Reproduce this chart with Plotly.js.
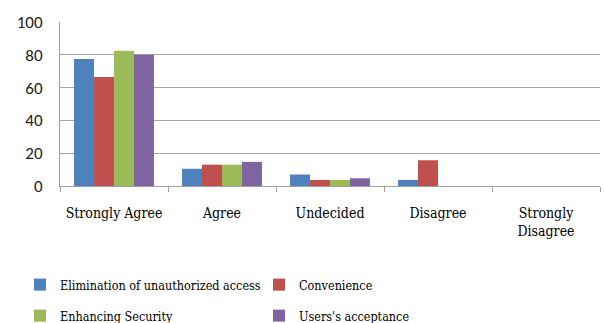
<!DOCTYPE html>
<html>
<head>
<meta charset="utf-8">
<script src="https://cdn.plot.ly/plotly-3.0.1.min.js"></script>
<style>html,body{margin:0;padding:0;background:#fff;}#chart{width:604px;height:323px;}</style>
</head>
<body>
<div id="chart"></div>
<script>
const categories = ["Strongly Agree", "Agree", "Undecided", "Disagree", "Strongly<br>Disagree"];
const seriesNames = ["Elimination of unauthorized access", "Convenience", "Enhancing Security", "Users's acceptance"];
const colors = ["#4f81bd", "#c0504d", "#9bbb59", "#8064a2"];
const elimination = [77.5, 10.5, 7, 3.7, 0];
const convenience = [66.5, 13, 3.7, 15.7, 0];
const security = [82.5, 13, 3.7, 0, 0];
const acceptance = [80, 14.7, 4.7, 0, 0];
const allValues = [elimination, convenience, security, acceptance];
const legendIds = ["legend", "legend", "legend2", "legend2"];
const yTicks = [0, 20, 40, 60, 80, 100];

const serif = "DejaVu Serif Condensed, DejaVu Serif";

const traces = allValues.map((vals, i) => ({
  type: "bar",
  x: categories,
  y: vals,
  name: seriesNames[i],
  marker: {color: colors[i]},
  legend: legendIds[i],
  hoverinfo: "none"
}));

const legendCommon = {
  orientation: "h",
  xref: "container", yref: "container",
  x: 20/604, xanchor: "left",
  yanchor: "middle",
  entrywidth: 194, entrywidthmode: "pixels",
  font: {family: serif, size: 12.5, color: "#000"},
  bgcolor: "rgba(0,0,0,0)",
  traceorder: "normal"
};

const layout = {
  width: 604, height: 323,
  margin: {l: 60, r: 4, t: 22, b: 137},
  paper_bgcolor: "#fff", plot_bgcolor: "#fff",
  font: {family: serif},
  barmode: "group", bargap: 0.26, bargroupgap: 0,
  showlegend: true,
  legend: Object.assign({}, legendCommon, {y: 38/323}),
  legend2: Object.assign({}, legendCommon, {y: 7/323}),
  xaxis: {
    type: "category",
    showline: true, linecolor: "#a0a0a0", linewidth: 1,
    ticks: "outside", ticklen: 5, tickcolor: "#a0a0a0",
    tickson: "boundaries", tickangle: 0,
    ticklabelstandoff: 14,
    tickfont: {family: serif, size: 14, color: "#000"},
    showgrid: false, zeroline: false
  },
  yaxis: {
    range: [0, 100], tickvals: yTicks, ticktext: yTicks.map(String),
    showline: true, linecolor: "#a0a0a0", linewidth: 1,
    showgrid: true, gridcolor: "#a6a6a6", gridwidth: 1,
    zeroline: false, ticks: "", ticklabelstandoff: 13,
    tickfont: {family: "Carlito, Lato, sans-serif", size: 17, color: "#222"}
  }
};

Plotly.newPlot("chart", traces, layout, {displayModeBar: false, staticPlot: true});
</script>
</body>
</html>
